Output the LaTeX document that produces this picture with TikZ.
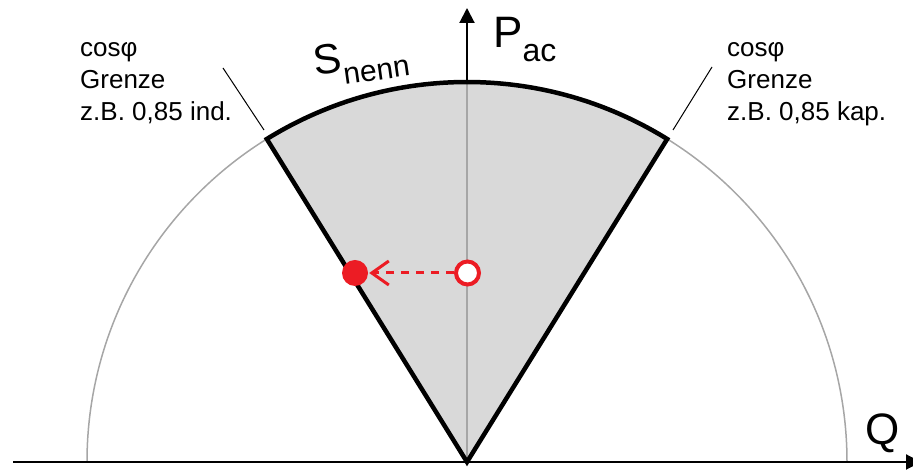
\documentclass[tikz,border=0pt]{standalone}
\usepackage{fontspec}
\setmainfont{Liberation Sans}
\usetikzlibrary{arrows.meta,calc}
\definecolor{myred}{HTML}{EC1C24}
\definecolor{sectorgray}{HTML}{D9D9D9}
\definecolor{circgray}{HTML}{A6A6A6}
\tikzset{
  axisline/.style={line width=2pt, black, -{Triangle[length=15pt,width=15pt]}},
  sectorline/.style={line width=4.5pt, black, line join=miter},
  thingray/.style={circgray, line width=1.5pt},
  leader/.style={line width=1pt, black},
  lbl/.style={inner sep=0pt, align=left, font=\fontsize{26}{32}\selectfont},
  symb/.style={inner sep=0pt},
  filleddot/.style={circle, fill=myred, minimum size=26pt, inner sep=0pt},
  opendot/.style={circle, draw=myred, fill=white, line width=4pt, minimum size=23pt, inner sep=0pt},
  redarrow/.style={myred, line width=3pt, dash pattern=on 8pt off 7pt, -{Straight Barb[length=17pt,width=24pt,line width=3pt]}, shorten >=1pt},
}
\begin{document}
\begin{tikzpicture}[x=1pt,y=1pt]
\clip (0,0) rectangle (913,470);
\coordinate (O) at (467,8);
\coordinate (Top) at (467,388);
\coordinate (Ytip) at (467,462);
\coordinate (Xstart) at (13,8);
\coordinate (Xtip) at (921,8);
% full semicircle
\draw[thingray] (87,8) arc[start angle=180, end angle=0, radius=380];
% sector fill
\fill[sectorgray] (O) -- ++(121.79:380) arc[start angle=121.79, end angle=58.21, radius=380] -- cycle;
% inner axis part
\draw[circgray, line width=2pt] (O) -- (Top);
% sector border
\draw[sectorline] (O) -- ++(121.79:380) coordinate (CL) arc[start angle=121.79, end angle=58.21, radius=380] coordinate (CR) -- cycle;
% axes
\draw[axisline] (Top) -- (Ytip);
\draw[axisline] (Xstart) -- (Xtip);
% red points
\node[filleddot] (P1) at (355,197) {};
\node[opendot] (P0) at (467.5,197) {};
\draw[redarrow] (P0) -- (P1);
% leader lines
\coordinate (L1a) at (223,402);
\coordinate (L1b) at (264,340);
\coordinate (L2a) at (712,403);
\coordinate (L2b) at (673,340);
\draw[leader] (L1a) -- (L1b);
\draw[leader] (L2a) -- (L2b);
% labels
\node[lbl, anchor=base west] (tl) at (80,349) {cosφ\\Grenze\\z.B. 0,85 ind.};
\node[lbl, anchor=base west] (tr) at (727,349) {cosφ\\Grenze\\z.B. 0,85 kap.};
\node[symb, anchor=base west, rotate=8] (S) at (315,394) {\fontsize{42}{42}\selectfont S\raisebox{-13pt}{\fontsize{30}{30}\selectfont nenn}};
\node[symb, anchor=base west] (P) at (493,422) {\fontsize{44}{44}\selectfont P\raisebox{-14pt}{\fontsize{32}{32}\selectfont ac}};
\node[symb, anchor=base west] (Q) at (865,25) {\fontsize{44}{44}\selectfont Q};
\end{tikzpicture}
\end{document}
